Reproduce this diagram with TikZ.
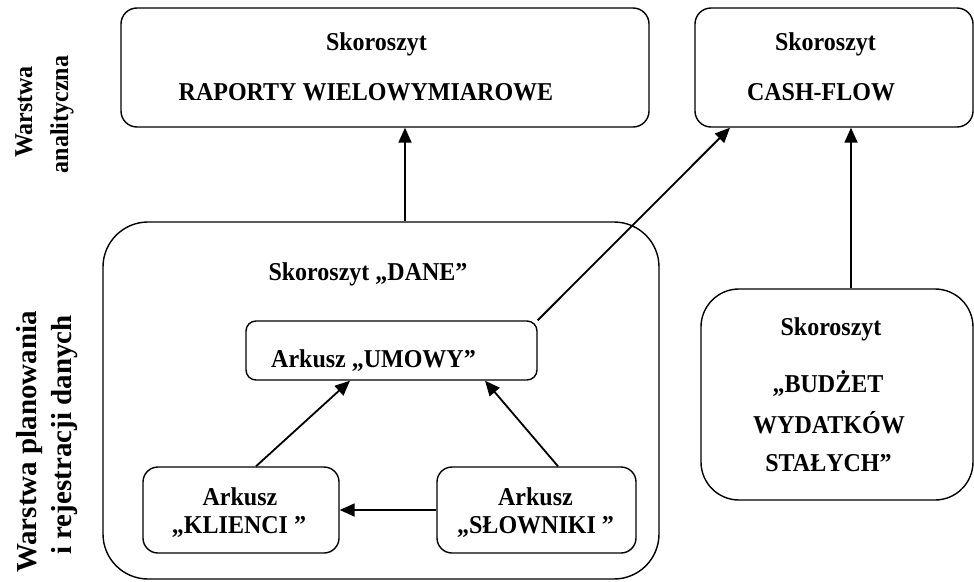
\documentclass[tikz,border=0pt]{standalone}
\usepackage{fontspec}
\usepackage{graphicx}
\setmainfont{Liberation Serif}
\usetikzlibrary{arrows.meta}
\newcommand{\vstr}[1]{\scalebox{1}[1.07]{#1}}
\begin{document}
\begin{tikzpicture}[x=1pt,y=-1pt,
  box/.style={draw, line width=1.4pt, rounded corners=#1, inner sep=0pt},
  txt/.style={font=\bfseries\fontsize{24}{28}\selectfont, inner sep=0pt, anchor=base},
  side/.style={font=\bfseries\fontsize{24}{28}\selectfont, inner sep=0pt, anchor=base, rotate=90},
  bigside/.style={font=\bfseries\fontsize{29}{34}\selectfont, inner sep=0pt, anchor=base, rotate=90},
  arr/.style={line width=1.8pt, -{Triangle[length=15pt,width=13pt]}}]
\useasboundingbox (0,0) rectangle (974,581);
% side labels
\node[side] (sa1) at (32,112) {\vstr{Warstwa}};
\node[side] (sa2) at (68,114.5) {\vstr{analityczna}};
\node[bigside] (sb1) at (36,442) {Warstwa planowania};
\node[bigside] (sb2) at (71,435) {i rejestracji danych};
% boxes
\node[box=16pt, minimum width=528pt, minimum height=119pt] (raport) at (385,67.5) {};
\node[box=16pt, minimum width=278pt, minimum height=119pt] (cash) at (834,67.5) {};
\node[box=45pt, minimum width=556pt, minimum height=357pt] (dane) at (381,400.5) {};
\node[box=10pt, minimum width=291pt, minimum height=59pt] (umowy) at (391.5,350.5) {};
\node[box=15pt, minimum width=196pt, minimum height=86pt] (klienci) at (241,510) {};
\node[box=15pt, minimum width=199pt, minimum height=86pt] (slowniki) at (536.5,510) {};
\node[box=38pt, minimum width=272pt, minimum height=211pt] (budzet) at (837,394.5) {};
% texts
\node[txt] (tr1) at (376.5,50) {\vstr{Skoroszyt}};
\node[txt] (tr2) at (366,100) {\vstr{RAPORTY WIELOWYMIAROWE}};
\node[txt] (tc1) at (825.5,50) {\vstr{Skoroszyt}};
\node[txt] (tc2) at (821,100) {\vstr{CASH-FLOW}};
\node[txt] (td) at (368,280) {\vstr{Skoroszyt „DANE”}};
\node[txt] (tu) at (373.5,367) {\vstr{Arkusz „UMOWY”}};
\node[txt] (tk1) at (240,505) {\vstr{Arkusz}};
\node[txt] (tk2) at (239,533) {\vstr{„KLIENCI ”}};
\node[txt] (ts1) at (535.5,505) {\vstr{Arkusz}};
\node[txt] (ts2) at (535.5,533) {\vstr{„SŁOWNIKI ”}};
\node[txt] (tb1) at (831,335) {\vstr{Skoroszyt}};
\node[txt] (tb2) at (828,392) {\vstr{„BUDŻET}};
\node[txt] (tb3) at (829,433) {\vstr{WYDATKÓW}};
\node[txt] (tb4) at (828.5,471) {\vstr{STAŁYCH”}};
% helper x positions
\coordinate (x405) at (405,0);
\coordinate (x730) at (730,0);
\coordinate (x851) at (851,0);
\coordinate (x256) at (256,0);
\coordinate (x350) at (350,0);
\coordinate (x558) at (558,0);
\coordinate (x485) at (485,0);
% connectors
\draw[arr] (dane.north -| x405) -- (raport.south -| x405);
\draw[arr] (umowy.north east) -- (cash.south -| x730);
\draw[arr] (budzet.north -| x851) -- (cash.south -| x851);
\draw[arr] (klienci.north -| x256) -- (umowy.south -| x350);
\draw[arr] (slowniki.north -| x558) -- (umowy.south -| x485);
\draw[arr] (slowniki.west) -- (klienci.east);
\end{tikzpicture}
\end{document}
